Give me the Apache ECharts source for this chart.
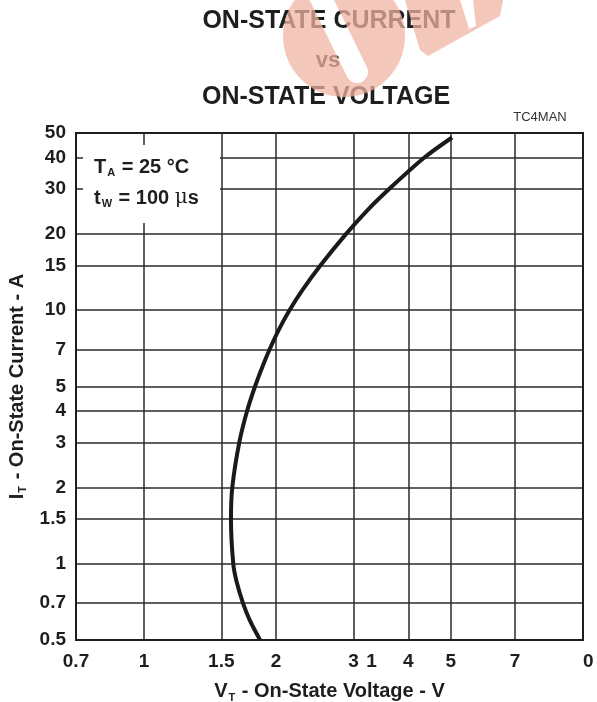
<!DOCTYPE html>
<html>
<head>
<meta charset="utf-8">
<style>
  html, body { margin: 0; padding: 0; background: #fff; }
  #chart { width: 597px; height: 702px; }
</style>
<script src="https://cdn.jsdelivr.net/npm/echarts@6/dist/echarts.min.js"></script>
</head>
<body>
<div id="chart"></div>
<script>
// on-state curve (V, A)
var current = [0.5, 0.6, 0.7, 0.85, 1, 1.5, 2, 3, 4, 5, 6, 7, 8.5, 10, 12, 15, 20, 25, 30, 40, 48];
var voltage = [1.838, 1.740, 1.680, 1.625, 1.597, 1.578, 1.589, 1.648, 1.717, 1.790, 1.862, 1.932, 2.037, 2.145, 2.295, 2.522, 2.887, 3.242, 3.613, 4.352, 5.032];

// tick labels
var xLabelValues = [0.7, 1, 1.5, 2, 3, 3.3, 4, 5, 7, 10];
var xLabelTexts = ["0.7", "1", "1.5", "2", "3", "1", "4", "5", "7", "{h|1}0"];
var xGridValues = [1, 1.5, 2, 3, 4, 5, 7];
var yLabelValues = [0.5, 0.7, 1, 1.5, 2, 3, 4, 5, 7, 10, 15, 20, 30, 40, 50];
var yGridValues = [0.7, 1, 1.5, 2, 3, 4, 5, 7, 10, 15, 20, 30, 40];

var FONT = '"Liberation Sans", Arial, sans-serif';
var INK = "#1e1e1e";

var chart = echarts.init(document.getElementById("chart"), null, { renderer: "canvas" });

function pickLabel(values, texts, v) {
  for (var i = 0; i < values.length; i++) {
    if (Math.abs(values[i] - v) < 1e-6 * Math.max(1, v)) return texts[i];
  }
  return "";
}

var points = voltage.map(function (v, i) { return [v, current[i]]; });

// watermark outline: a circle with a slanted slot, as one polygon
function arcPts(cx, cy, r, a0, a1, n) {
  var out = [];
  for (var i = 0; i <= n; i++) {
    var a = a0 + (a1 - a0) * i / n;
    out.push([cx + r * Math.cos(a), cy + r * Math.sin(a)]);
  }
  return out;
}
var deg = Math.PI / 180;
var blob = [[294.9, -30]]
  .concat(arcPts(344, 36, 61, 222.1 * deg, -42.1 * deg, 60))
  .concat([[319.4, -30], [366.9, 67.2]])
  .concat(arcPts(357, 72, 11, -25.9 * deg, 153.9 * deg, 16));
var arm = [[405, 0], [420, 50], [428, 56], [500, 16], [503, 0], [473, 0], [476, 26], [469, 29], [460, 0]];

var subRich = {
  b: { fontFamily: FONT, fontWeight: "bold", fontSize: 20, color: INK },
  s: { fontFamily: FONT, fontWeight: "bold", fontSize: 11, color: INK, padding: [12, 1, 0, 1] },
};

var option = {
  backgroundColor: "#ffffff",
  animation: false,
  grid: {
    left: 76,
    right: 14,
    top: 133,
    bottom: 62,
    containLabel: false,
    outerBoundsMode: "none",
    show: true,
    borderColor: INK,
    borderWidth: 2,
  },
  xAxis: {
    type: "log",
    logBase: 10,
    min: 0.7,
    max: 10,
    name: "{b|V}{s|T}{b| - On-State Voltage - V}",
    nameLocation: "middle",
    nameGap: 40,
    nameTextStyle: { rich: subRich },
    axisLine: { show: true, lineStyle: { color: INK, width: 2 } },
    axisTick: { show: false, customValues: xGridValues },
    splitLine: { show: true, lineStyle: { color: "#2a2a2a", width: 1.5 } },
    axisLabel: {
      customValues: xLabelValues,
      margin: 12,
      fontFamily: FONT,
      fontWeight: "bold",
      fontSize: 19,
      color: INK,
      formatter: function (v) { return pickLabel(xLabelValues, xLabelTexts, v); },
      rich: {
        h: { fontFamily: FONT, fontWeight: "bold", fontSize: 19, color: "rgba(0,0,0,0)" },
      },
    },
  },
  yAxis: {
    type: "log",
    logBase: 10,
    min: 0.5,
    max: 50,
    name: "{b|I}{s|T}{b| - On-State Current - A}",
    nameLocation: "middle",
    nameRotate: 90,
    nameGap: 46,
    nameTextStyle: { rich: subRich },
    axisLine: { show: true, lineStyle: { color: INK, width: 2 } },
    axisTick: { show: false, customValues: yGridValues },
    splitLine: { show: true, lineStyle: { color: "#2a2a2a", width: 1.5 } },
    axisLabel: {
      customValues: yLabelValues,
      margin: 10,
      fontFamily: FONT,
      fontWeight: "bold",
      fontSize: 19,
      color: INK,
      formatter: function (v) { return String(Number(v.toPrecision(3))); },
    },
  },
  series: [
    {
      type: "line",
      data: points,
      smooth: 0.3,
      showSymbol: false,
      lineStyle: { color: "#1a1a1a", width: 4 },
      z: 3,
    },
  ],
  graphic: [
    // titles
    { type: "text", x: 329, y: 21, z: 1, style: { text: "ON-STATE CURRENT", font: "bold 25px " + FONT, fill: INK, align: "center", verticalAlign: "middle" } },
    { type: "text", x: 328, y: 61, z: 1, style: { text: "vs", font: "bold 22px " + FONT, fill: INK, align: "center", verticalAlign: "middle" } },
    { type: "text", x: 326, y: 97, z: 1, style: { text: "ON-STATE VOLTAGE", font: "bold 25px " + FONT, fill: INK, align: "center", verticalAlign: "middle" } },
    { type: "text", x: 540, y: 117, z: 1, style: { text: "TC4MAN", font: "13px " + FONT, fill: "#333", align: "center", verticalAlign: "middle" } },
    // watermark over the title
    { type: "polygon", z: 100, shape: { points: blob }, style: { fill: "rgba(239,180,161,0.74)" } },
    { type: "polygon", z: 100, shape: { points: arm }, style: { fill: "rgba(239,180,161,0.74)" } },
    // conditions box
    { type: "rect", z: 50, shape: { x: 83, y: 145, width: 137, height: 78 }, style: { fill: "#fff" } },
    {
      type: "text", x: 94, y: 167, z: 51,
      style: {
        text: "{b|T}{s|A}{b| = 25 °C}",
        verticalAlign: "middle",
        rich: {
          b: { fontFamily: FONT, fontWeight: "bold", fontSize: 20, fill: INK },
          s: { fontFamily: FONT, fontWeight: "bold", fontSize: 11, fill: INK, padding: [12, 1, 0, 1] },
        },
      },
    },
    {
      type: "text", x: 94, y: 198, z: 51,
      style: {
        text: "{b|t}{s|W}{b| = 100 }{m|μ}{b|s}",
        verticalAlign: "middle",
        rich: {
          b: { fontFamily: FONT, fontWeight: "bold", fontSize: 20, fill: INK },
          s: { fontFamily: FONT, fontWeight: "bold", fontSize: 11, fill: INK, padding: [12, 1, 0, 1] },
          m: { fontFamily: '"DejaVu Serif", serif', fontSize: 20, fill: INK },
        },
      },
    },
  ],
};

chart.setOption(option);
</script>
</body>
</html>
